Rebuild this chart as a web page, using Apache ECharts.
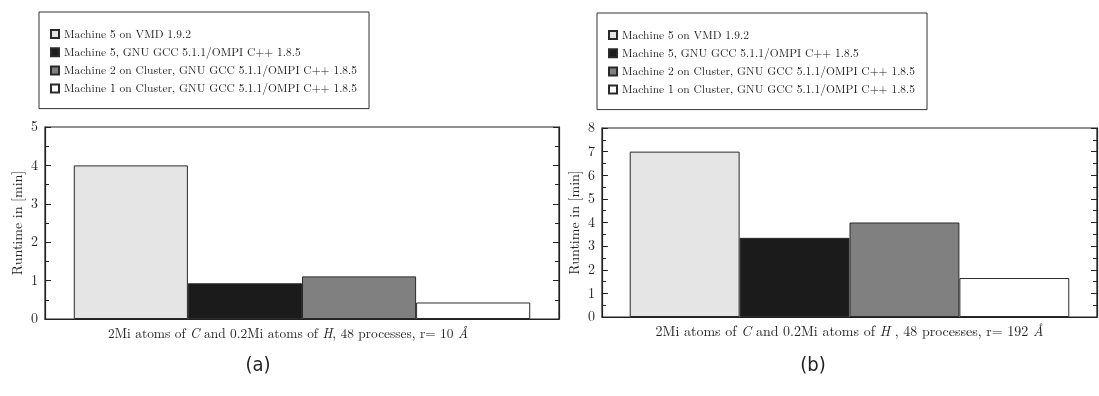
<!DOCTYPE html>
<html>
<head>
<meta charset="utf-8">
<script src="https://cdn.jsdelivr.net/npm/echarts@6/dist/echarts.min.js"></script>
<style>
html,body{margin:0;padding:0;background:#fff;}
#c{width:1099px;height:396px;}
</style>
</head>
<body>
<div id="c"></div>
<script>
var seriesNames = [
  'Machine 5 on VMD 1.9.2',
  'Machine 5, GNU GCC 5.1.1/OMPI C++ 1.8.5',
  'Machine 2 on Cluster, GNU GCC 5.1.1/OMPI C++ 1.8.5',
  'Machine 1 on Cluster, GNU GCC 5.1.1/OMPI C++ 1.8.5'
];
var seriesColors = ['#e5e5e5', '#1b1b1b', '#808080', '#ffffff'];
var categoriesA = ['r10'];
var categoriesB = ['r192'];
var valuesA = [4.0, 0.93, 1.11, 0.43];
var valuesB = [7.0, 3.35, 4.0, 1.65];
var yTicksA = {min: 0, max: 5, interval: 1};
var yTicksB = {min: 0, max: 8, interval: 1};
var xNameA = '2Mi atoms of {i|C} and 0.2Mi atoms of {i|H}, 48 processes, r= 10 {i|Å}';
var xNameB = '2Mi atoms of {i|C} and 0.2Mi atoms of {i|H} , 48 processes, r= 192 {i|Å}';
var yName = 'Runtime in [min]';
var subLabels = ['(a)', '(b)'];

var SERIF = '"Latin Modern Roman","Liberation Serif","DejaVu Serif",serif';
var SANS = '"DejaVu Sans Condensed","Open Sans","DejaVu Sans",sans-serif';
var ink = '#222';

function yAxes(gi, t) {
  var base = {
    gridIndex: gi, type: 'value', min: t.min, max: t.max, interval: t.interval,
    axisLine: {show: true, lineStyle: {color: ink, width: 1.2}},
    axisTick: {show: true, inside: true, length: 6, lineStyle: {color: ink}},
    minorTick: {show: true, splitNumber: 2, length: 4, lineStyle: {color: ink}},
    splitLine: {show: false}
  };
  var left = Object.assign({}, base, {
    position: 'left',
    name: yName, nameLocation: 'middle', nameGap: 20,
    nameTextStyle: {fontFamily: SERIF, fontSize: 14, color: ink},
    axisLabel: {show: true, fontFamily: SERIF, fontSize: 14, color: ink, margin: 7}
  });
  var right = Object.assign({}, base, {
    position: 'right',
    axisLabel: {show: false}
  });
  return [left, right];
}

function xAxis(gi, cats, nm, pad, fs) {
  return {
    gridIndex: gi, type: 'category', data: cats,
    axisLine: {show: true, lineStyle: {color: ink, width: 1.2}},
    axisTick: {show: false},
    axisLabel: {show: false},
    name: nm, nameLocation: 'middle', nameGap: 8,
    nameTextStyle: {fontFamily: SERIF, fontSize: fs, color: ink, padding: pad,
      rich: {i: {fontFamily: SERIF, fontStyle: 'italic', fontSize: fs, color: ink}}}
  };
}

var series = [];
function addSeries(gi, vals) {
  for (var k = 0; k < seriesNames.length; k++) {
    series.push({
      type: 'bar', name: seriesNames[k],
      xAxisIndex: gi, yAxisIndex: gi * 2,
      data: [vals[k]],
      barGap: '0%', barCategoryGap: '11.2%',
      itemStyle: {color: seriesColors[k], borderColor: '#2a2a2a', borderWidth: 1},
      emphasis: {disabled: true},
      animation: false
    });
  }
}
addSeries(0, valuesA);
addSeries(1, valuesB);

function legend(left, top) {
  return {
    data: seriesNames, orient: 'vertical', left: left, top: top,
    itemWidth: 8, itemHeight: 8, itemGap: 4.2,
    padding: [15, 12, 13, 11],
    borderColor: '#333', borderWidth: 1,
    icon: 'rect',
    textStyle: {fontFamily: SERIF, fontSize: 11.5, color: ink, lineHeight: 14}
  };
}

var chart = echarts.init(document.getElementById('c'), null, {renderer: 'canvas'});
var ya = yAxes(0, yTicksA), yb = yAxes(1, yTicksB);
chart.setOption({
  backgroundColor: '#fff',
  animation: false,
  grid: [
    {left: 45, top: 127, width: 514, height: 192, show: true, borderColor: ink, borderWidth: 1.2, backgroundColor: 'transparent'},
    {left: 602, top: 128, width: 495, height: 189, show: true, borderColor: ink, borderWidth: 1.2, backgroundColor: 'transparent'}
  ],
  legend: [legend(39, 12), legend(597, 13)],
  xAxis: [xAxis(0, categoriesA, xNameA, [0, 28, 0, 0], 13.4), xAxis(1, categoriesB, xNameB, [0, 0, 0, 0], 14)],
  yAxis: [ya[0], ya[1], yb[0], yb[1]],
  series: series,
  graphic: [
    {type: 'text', x: 258, y: 366, style: {text: subLabels[0], font: '20px ' + SANS, fill: '#222', align: 'center', verticalAlign: 'middle'}},
    {type: 'text', x: 813, y: 366, style: {text: subLabels[1], font: '20px ' + SANS, fill: '#222', align: 'center', verticalAlign: 'middle'}}
  ]
});
</script>
</body>
</html>
